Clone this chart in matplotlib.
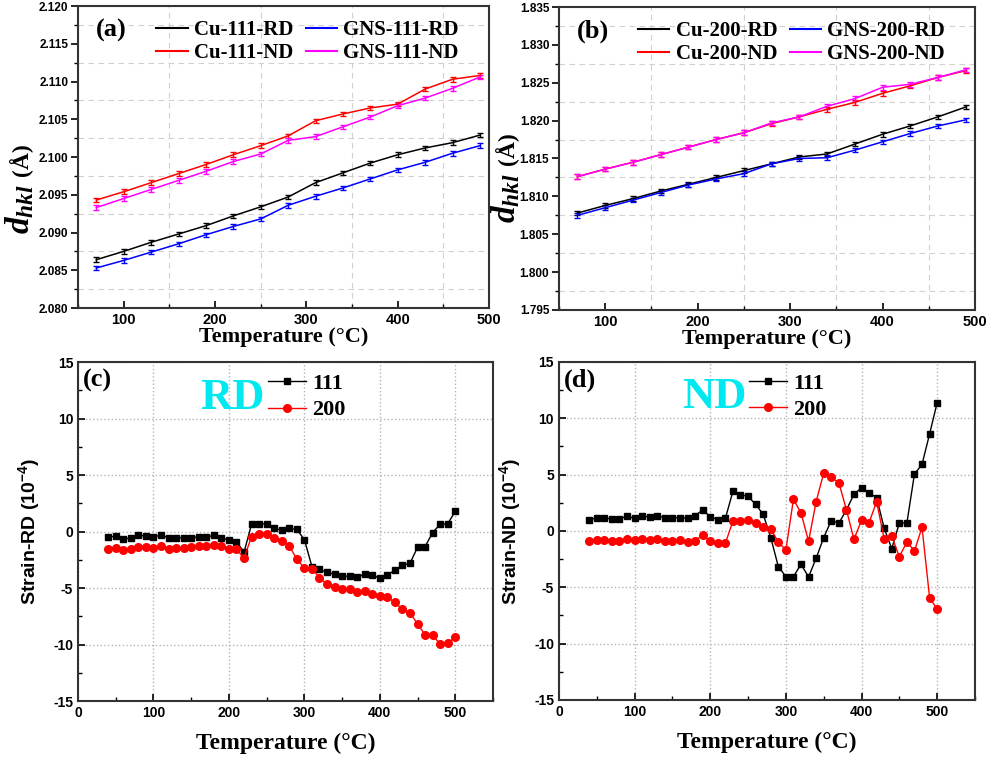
import matplotlib.pyplot as plt
from matplotlib.ticker import MultipleLocator, FormatStrFormatter

plt.rcParams['font.family'] = ['Liberation Sans', 'DejaVu Sans']
plt.rcParams['font.weight'] = 'bold'
plt.rcParams['axes.unicode_minus'] = False
plt.rcParams['mathtext.fontset'] = 'custom'
plt.rcParams['mathtext.it'] = 'Liberation Serif:italic:bold'
plt.rcParams['mathtext.rm'] = 'Liberation Sans:bold'
plt.rcParams['mathtext.default'] = 'regular'

# ---- data: lattice spacing (panels a, b) ----
temp_d = [70, 100, 130, 160, 190, 220, 250, 280, 310, 340, 370, 400, 430, 460, 490]

cu111_rd = [2.0864, 2.0875, 2.0887, 2.0898, 2.0909, 2.0922, 2.0934, 2.0947,
            2.0966, 2.0979, 2.0992, 2.1003, 2.1012, 2.1019, 2.1029]
gns111_rd = [2.0853, 2.0863, 2.0874, 2.0885, 2.0897, 2.0908, 2.0918, 2.0936,
             2.0948, 2.0959, 2.0971, 2.0983, 2.0993, 2.1005, 2.1015]
cu111_nd = [2.0943, 2.0954, 2.0966, 2.0978, 2.0990, 2.1003, 2.1015, 2.1028,
            2.1048, 2.1057, 2.1065, 2.1070, 2.1090, 2.1103, 2.1108]
gns111_nd = [2.0933, 2.0945, 2.0957, 2.0969, 2.0981, 2.0994, 2.1004, 2.1022,
             2.1027, 2.1040, 2.1053, 2.1068, 2.1078, 2.1091, 2.1106]

cu200_rd = [1.8078, 1.8088, 1.8097, 1.8107, 1.8116, 1.8125, 1.8134, 1.8143,
            1.8152, 1.8156, 1.8169, 1.8182, 1.8193, 1.8205, 1.8218]
gns200_rd = [1.8075, 1.8085, 1.8095, 1.8105, 1.8115, 1.8123, 1.8130, 1.8143,
             1.8150, 1.8151, 1.8161, 1.8172, 1.8183, 1.8193, 1.8201]
cu200_nd = [1.8126, 1.8136, 1.8145, 1.8155, 1.8165, 1.8175, 1.8184, 1.8196,
            1.8205, 1.8215, 1.8224, 1.8236, 1.8246, 1.8257, 1.8266]
gns200_nd = [1.8126, 1.8136, 1.8145, 1.8155, 1.8165, 1.8175, 1.8184, 1.8197,
             1.8205, 1.8219, 1.8229, 1.8244, 1.8248, 1.8257, 1.8267]
d_err = 0.0003

# ---- data: strain (panels c, d), units of 1e-4 ----
temp_s = [40, 50, 60, 70, 80, 90, 100, 110, 120, 130, 140, 150, 160, 170, 180,
          190, 200, 210, 220, 230, 240, 250, 260, 270, 280, 290, 300, 310, 320,
          330, 340, 350, 360, 370, 380, 390, 400, 410, 420, 430, 440, 450, 460,
          470, 480, 490, 500]

rd_111 = [-0.50, -0.41, -0.68, -0.56, -0.35, -0.38, -0.44, -0.35, -0.53, -0.56,
          -0.56, -0.56, -0.44, -0.47, -0.35, -0.59, -0.74, -0.89, -1.83, 0.65,
          0.71, 0.65, 0.27, 0.12, 0.27, 0.18, -0.71, -3.10, -3.34, -3.61, -3.78,
          -3.96, -3.96, -4.02, -3.78, -3.84, -4.14, -3.87, -3.40, -2.99, -2.81,
          -1.39, -1.33, -0.09, 0.65, 0.68, 1.80]
rd_200 = [-1.51, -1.42, -1.66, -1.51, -1.36, -1.36, -1.42, -1.30, -1.51, -1.42,
          -1.42, -1.39, -1.30, -1.24, -1.15, -1.30, -1.51, -1.57, -2.36, -0.44,
          -0.24, -0.18, -0.56, -0.80, -1.27, -2.45, -3.22, -3.28, -4.08, -4.67,
          -4.88, -5.05, -5.11, -5.38, -5.29, -5.53, -5.73, -5.82, -6.27, -6.89,
          -7.18, -8.19, -9.13, -9.19, -9.96, -9.90, -9.34]
nd_111 = [1.00, 1.15, 1.15, 1.06, 1.09, 1.30, 1.12, 1.36, 1.21, 1.33,
          1.18, 1.18, 1.18, 1.12, 1.36, 1.86, 1.27, 1.00, 1.12, 3.52,
          3.22, 3.07, 2.36, 1.48, -0.59, -3.16, -4.05, -4.05, -2.96, -4.08,
          -2.42, -0.59, 0.92, 0.68, 1.86, 3.25, 3.84, 3.37, 2.96, 0.24,
          -1.57, 0.71, 0.71, 5.05, 5.91, 8.60, 11.38]
nd_200 = [-0.92, -0.77, -0.80, -0.86, -0.89, -0.74, -0.80, -0.68, -0.83, -0.74,
          -0.86, -0.89, -0.83, -1.01, -0.86, -0.38, -0.92, -1.09, -1.09, 0.89,
          0.89, 1.00, 0.74, 0.38, 0.21, -1.01, -1.68, 2.81, 1.60, -0.92,
          2.60, 5.14, 4.76, 4.29, 1.89, -0.74, 0.95, 0.74, 2.60, -0.71,
          -0.47, -2.28, -0.98, -1.77, 0.33, -5.91, -6.95]

serif_b = {'family': 'Liberation Serif', 'weight': 'bold'}
W, H = 989, 762

fig = plt.figure(figsize=(9.89, 7.62), dpi=100)
ax_a = fig.add_axes([0.0789, 0.5958, 0.4156, 0.3963])
ax_b = fig.add_axes([0.5652, 0.5932, 0.4206, 0.3976])
ax_c = fig.add_axes([0.0789, 0.0800, 0.4196, 0.4449])
ax_d = fig.add_axes([0.5652, 0.0814, 0.4206, 0.4436])


def style_frame(ax):
    for s in ax.spines.values():
        s.set_linewidth(1.5)
        s.set_color('#333333')
    for lab in ax.get_xticklabels() + ax.get_yticklabels():
        lab.set_fontweight('bold')


def d_panel(ax, series, ylim, tag, lab_x, lab_y):
    for y, c, lab in series:
        ax.errorbar(temp_d, y, yerr=d_err, color=c, lw=1.1, elinewidth=1,
                    capsize=2.5, capthick=1)
        ax.plot([], [], color=c, lw=1.5, label=lab)
    ax.set_xlim(50, 500)
    ax.set_ylim(*ylim)
    ax.xaxis.set_major_locator(MultipleLocator(100))
    ax.xaxis.set_minor_locator(MultipleLocator(50))
    ax.yaxis.set_major_locator(MultipleLocator(0.005))
    ax.yaxis.set_minor_locator(MultipleLocator(0.0025))
    ax.yaxis.set_major_formatter(FormatStrFormatter('%.3f'))
    ax.grid(which='minor', ls=(0, (5, 4)), color='#d0d0d0', lw=0.8)
    ax.tick_params(axis='y', which='both', direction='out', labelsize=8.5, pad=2)
    ax.tick_params(axis='x', which='both', direction='in', labelsize=10.5)
    ax.tick_params(which='major', length=5, width=1.2)
    ax.tick_params(which='minor', length=3, width=1)
    style_frame(ax)
    ax.set_xlabel('Temperature (\u00b0C)', fontdict=serif_b, fontsize=16, labelpad=0)
    # y label built from two pieces: big italic d_hkl and smaller (Å)
    fig.text(lab_x / W, 1 - lab_y / H, r'$\mathit{d_{hkl}}$', fontsize=24,
             rotation=90, ha='center', va='bottom')
    fig.text((lab_x + 1) / W, 1 - (lab_y - 58) / H, '(\u00c5)', fontdict=serif_b,
             fontsize=17, rotation=90, ha='center', va='bottom')
    ax.text(0.044, 0.92, tag, transform=ax.transAxes, fontdict=serif_b,
            fontsize=19, va='center', ha='left')
    ax.legend(ncol=2, loc='upper left', bbox_to_anchor=(0.16, 0.995),
              frameon=False, prop={'family': 'Liberation Serif', 'weight': 'bold', 'size': 15},
              handlelength=1.5, handletextpad=0.3, columnspacing=0.6,
              labelspacing=0.15, borderpad=0.1)


d_panel(ax_a, [(cu111_rd, 'black', 'Cu-111-RD'), (cu111_nd, '#ff0000', 'Cu-111-ND'),
               (gns111_rd, '#0000ff', 'GNS-111-RD'), (gns111_nd, '#ff00ff', 'GNS-111-ND')],
        (2.080, 2.120), '(a)', 20, 234)
d_panel(ax_b, [(cu200_rd, 'black', 'Cu-200-RD'), (cu200_nd, '#ff0000', 'Cu-200-ND'),
               (gns200_rd, '#0000ff', 'GNS-200-RD'), (gns200_nd, '#ff00ff', 'GNS-200-ND')],
        (1.795, 1.835), '(b)', 506, 223)


def s_panel(ax, y111, y200, word, tag):
    ax.plot(temp_s, y111, color='black', marker='s', ms=4.5, lw=1, label='111')
    ax.plot(temp_s, y200, color='#ff0000', marker='o', ms=5.5, lw=1, label='200')
    ax.set_xlim(0, 550)
    ax.set_ylim(-15, 15)
    ax.set_xticks([0, 100, 200, 300, 400, 500])
    ax.xaxis.set_minor_locator(MultipleLocator(50))
    ax.yaxis.set_major_locator(MultipleLocator(5))
    ax.yaxis.set_minor_locator(MultipleLocator(2.5))
    ax.grid(which='major', ls=':', color='#b4b4b4', lw=1)
    ax.tick_params(which='both', direction='in', labelsize=10)
    ax.tick_params(which='major', length=5, width=1.2)
    ax.tick_params(which='minor', length=3, width=1)
    style_frame(ax)
    ax.set_xlabel('Temperature (\u00b0C)', fontdict=serif_b, fontsize=17, labelpad=9)
    ax.set_ylabel('Strain-%s (10$^{-4}$)' % word, fontsize=14, fontweight='bold', labelpad=8)
    ax.text(0.012, 0.945, tag, transform=ax.transAxes, fontdict=serif_b,
            fontsize=19, va='center', ha='left')
    ax.text(0.295, 0.895, word, transform=ax.transAxes, fontdict=serif_b,
            fontsize=32, color='#00e8f0', va='center', ha='left')
    ax.legend(loc='upper left', bbox_to_anchor=(0.425, 1.005), frameon=False,
              prop={'family': 'Liberation Serif', 'weight': 'bold', 'size': 16},
              handlelength=1.7, handletextpad=0.3, labelspacing=0.25, borderpad=0.1)


s_panel(ax_c, rd_111, rd_200, 'RD', '(c)')
s_panel(ax_d, nd_111, nd_200, 'ND', '(d)')

fig.savefig('out.png', dpi=100)
